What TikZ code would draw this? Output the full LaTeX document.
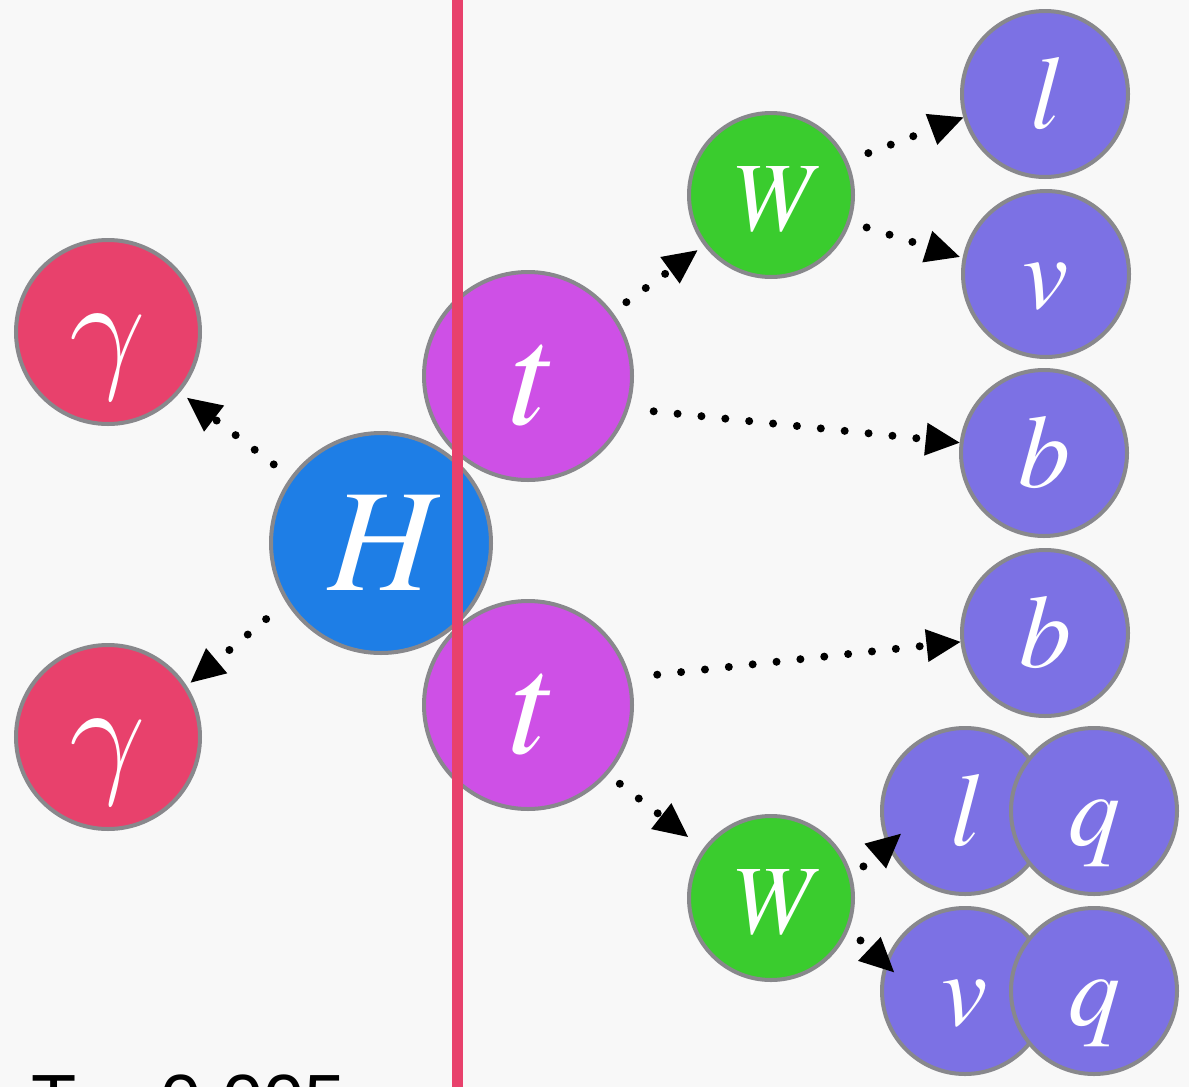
\RequirePackage{fix-cm}
\documentclass[tikz,border=0pt]{standalone}
\usepackage{fontspec}
\newfontfamily\lblfont{texgyretermes-italic}[Extension=.otf]
\newfontfamily\capfont{Liberation Sans}
\usetikzlibrary{arrows.meta}
\definecolor{bgpaper}{HTML}{F8F8F8}
\definecolor{rimgray}{HTML}{88888C}
\definecolor{photred}{HTML}{E8416C}
\definecolor{higgsblue}{HTML}{1E7EE6}
\definecolor{topmag}{HTML}{CE50E6}
\definecolor{wgreen}{HTML}{3ACC2E}
\definecolor{leafviolet}{HTML}{7C71E4}
\tikzset{
    particle/.style={circle,draw=rimgray,line width=2pt,inner sep=0pt,
      text=white,text depth=0pt},
    photon/.style={particle,fill=photred,minimum size=92pt,text height=41pt,
      font=\fontsize{68pt}{68pt}\selectfont},
    higgs/.style={particle,fill=higgsblue,minimum size=110pt,text height=47pt,
      font=\lblfont\fontsize{73pt}{73pt}\selectfont},
    quarktop/.style={particle,fill=topmag,minimum size=104pt,text height=48pt,
      font=\lblfont\fontsize{73pt}{73pt}\selectfont},
    wboson/.style={particle,fill=wgreen,minimum size=82pt,text height=35pt,
      font=\lblfont\fontsize{49pt}{49pt}\selectfont},
    leaf/.style={particle,fill=leafviolet,minimum size=83pt,text height=34pt,
      font=\lblfont\fontsize{52pt}{52pt}\selectfont},
    decay/.style={draw=black,line width=4pt,line cap=round,
      dash pattern=on 0pt off 12pt,
      -{Triangle[length=17pt,width=16.5pt,line width=0pt]}},
    cutline/.style={draw=photred,line width=5.5pt}
}
\begin{document}
\begin{tikzpicture}[x=0.5pt,y=-0.5pt]
  \useasboundingbox[fill=bgpaper] (0,0) rectangle (1189,1087);
  % photons and Higgs
  \node[photon] (ga1) at (108,332) {$\gamma$};
  \node[photon] (ga2) at (108,737) {$\gamma$};
  \node[higgs] (H) at (381,543) {H};
  % tops and W's
  \node[quarktop] (t1) at (528,376) {t};
  \node[quarktop] (t2) at (528,705) {t};
  \node[wboson] (W1) at (771,195) {W};
  \node[wboson] (W2) at (771,898) {W};
  % final states
  \node[leaf] (l1) at (1045,94) {l};
  \node[leaf] (v1) at (1046,274) {v};
  \node[leaf] (b1) at (1044,453) {b};
  \node[leaf] (b2) at (1045,633) {b};
  \node[leaf] (l2) at (965,811) {l};
  \node[leaf] (q1) at (1094,811) {q};
  \node[leaf] (v2) at (965,991) {v};
  \node[leaf] (q2) at (1094,991) {q};
  % decays
  \draw[decay,shorten <=10.5pt,shorten >=4.5pt] (H.144) -- (ga1.-40);
  \draw[decay,shorten <=13pt,shorten >=2.5pt] (H.212) -- (ga2.33);
  \draw[decay,shorten <=8.5pt,shorten >=4pt] (t1.37) -- (W1.217);
  \draw[decay,shorten <=12.5pt] (t1.-18) -- (b1.173);
  \draw[decay,shorten <=13.5pt] (t2.15) -- (b2.186);
  \draw[decay,shorten <=7.5pt,shorten >=9.5pt] (t2.-41) -- (W2.144);
  \draw[decay,shorten <=11pt] (W1.24) -- (l1.196);
  \draw[decay,shorten <=8.5pt,shorten >=1.5pt] (W1.-19) -- (v1.169);
  \draw[decay,shorten <=7.5pt,shorten >=-9pt] (W2.15) -- (l2.204);
  \draw[decay,shorten <=8pt,shorten >=-6.5pt] (W2.-22) -- (v2.161);
  % cut
  \draw[cutline] (457.5,0) -- (457.5,1087);
  \node[anchor=base west,inner sep=0pt,
    font=\capfont\fontsize{37pt}{37pt}\selectfont] (cut) at (31,1126) {T = 0.005};
\end{tikzpicture}
\end{document}
